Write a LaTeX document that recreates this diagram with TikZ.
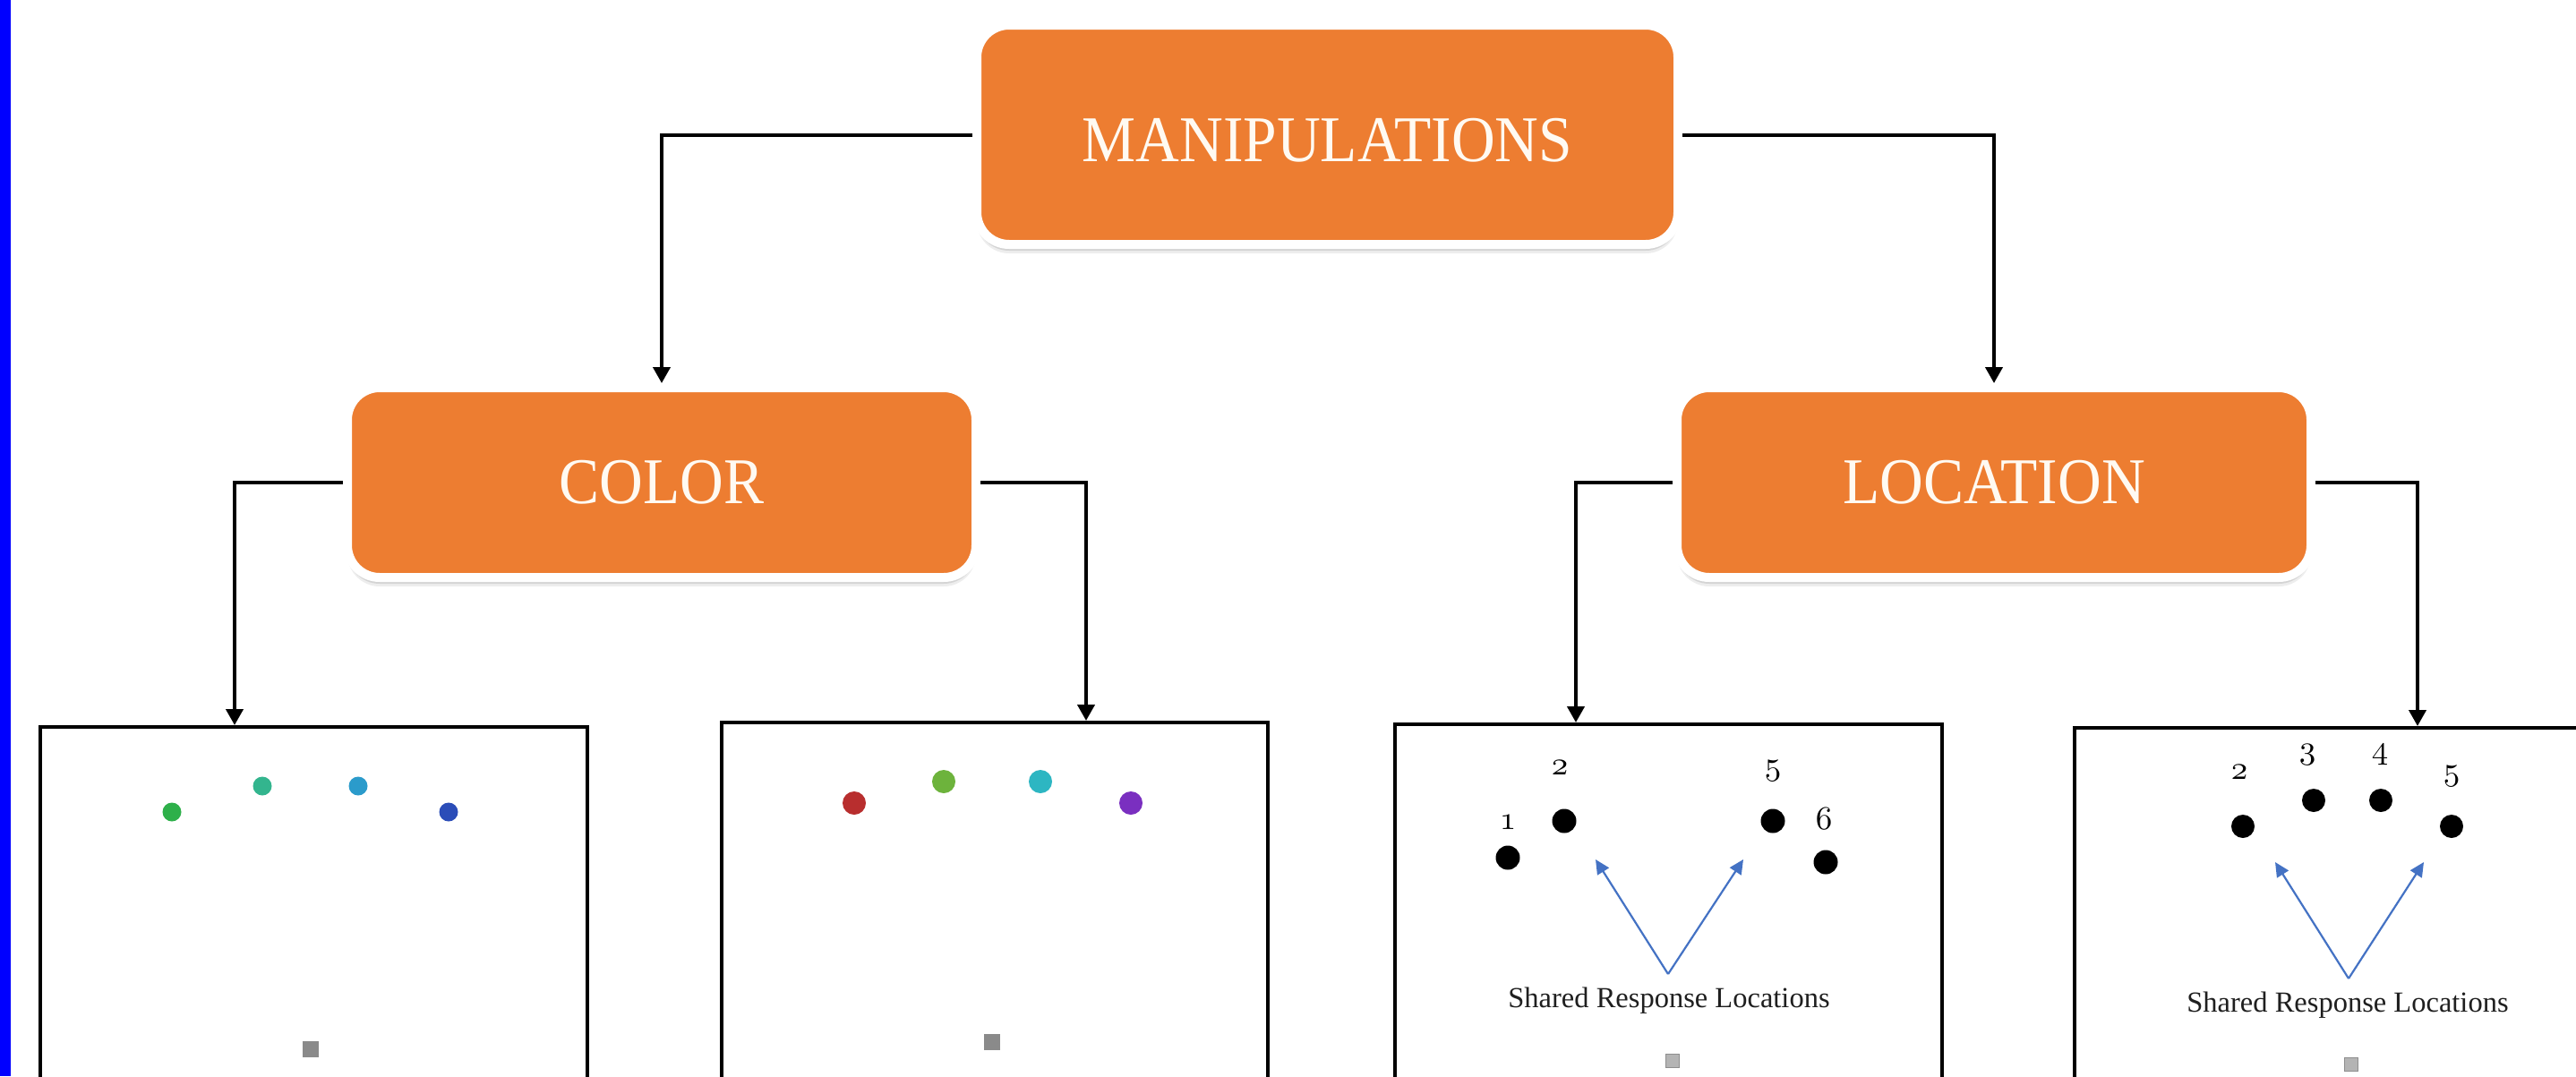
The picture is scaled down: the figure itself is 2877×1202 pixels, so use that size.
\documentclass[tikz,border=0pt]{standalone}
\usepackage{graphicx}
\usepackage{fontspec}
\setmainfont{Liberation Serif}
\usetikzlibrary{arrows.meta,shadows}
\definecolor{boxorange}{HTML}{ED7D31}
\definecolor{boxtext}{HTML}{FFFAF2}
\definecolor{ptrblue}{HTML}{4472C4}
\definecolor{barblue}{HTML}{0000FF}
\definecolor{dgreen}{HTML}{2EB04A}
\definecolor{dteal}{HTML}{33B58E}
\definecolor{dsky}{HTML}{2B9BCB}
\definecolor{dblue}{HTML}{2B4DB8}
\definecolor{dred}{HTML}{B82E2E}
\definecolor{dlime}{HTML}{6DB33C}
\definecolor{dcyan}{HTML}{2DB6C2}
\definecolor{dpurple}{HTML}{7A2FC0}
\definecolor{sqdark}{HTML}{8A8A8A}
\definecolor{sqlight}{HTML}{B4B4B4}
\definecolor{sqedge}{HTML}{8E8E8E}
\font\osfdigits=cmmi10 at 37pt
\newcommand\boxlabel[1]{\fontsize{67.5}{80}\selectfont\scalebox{1}[1.08]{#1}}
\begin{document}
\begin{tikzpicture}[x=1pt,y=-1pt,
  catbox/.style={rectangle, rounded corners=36pt, fill=boxorange, draw=white,
    line width=10pt, inner sep=0pt, text=boxtext,
    drop shadow={shadow xshift=0pt, shadow yshift=-7pt, opacity=0.10, fill=black},
    drop shadow={shadow xshift=0pt, shadow yshift=-10pt, opacity=0.07, fill=black}},
  conn/.style={line width=4pt, -{Triangle[length=18pt,width=19pt]}},
  panel/.style={rectangle, draw=black, line width=4.5pt, fill=white, inner sep=0pt},
  ptr/.style={draw=ptrblue, line width=2.2pt, -{Triangle[length=16pt,width=15pt]}},
  numlbl/.style={inner sep=0pt, anchor=base, font=\osfdigits},
  shared/.style={inner sep=0pt, anchor=base, font=\fontsize{32.5}{38}\selectfont, text=black!88},
  sqbig/.style={fill=sqdark},
  sqsmall/.style={fill=sqlight, draw=sqedge, line width=1.5pt}
]
\useasboundingbox (0,0) rectangle (2877,1202);
\clip (0,0) rectangle (2877,1202);
\fill[white] (0,0) rectangle (2877,1202);
\fill[barblue] (0,0) rectangle (12,1202);

% category boxes
\node[catbox, minimum width=783pt, minimum height=245pt] (manip) at (1482.5,150.5)
  {\boxlabel{\raisebox{-5.5pt}[\height][\depth]{MANIPULATIONS}}};
\node[catbox, minimum width=702pt, minimum height=212pt] (color) at (739,539)
  {\boxlabel{COLOR}};
\node[catbox, minimum width=708pt, minimum height=212pt] (loc) at (2227,539)
  {\boxlabel{LOCATION}};

% panels
\node[panel, minimum width=611pt, minimum height=488pt] (p1) at (350.5,1056) {};
\node[panel, minimum width=610pt, minimum height=488pt] (p2) at (1111,1051) {};
\node[panel, minimum width=611pt, minimum height=488pt] (p3) at (1863.5,1053) {};
\node[panel, minimum width=683pt, minimum height=488pt] (p4) at (2658.5,1057) {};

% arrow targets on panel tops
\coordinate (a1) at (262,810);
\coordinate (a2) at (1213,805);
\coordinate (a3) at (1760,807);
\coordinate (a4) at (2700,811);

% connectors
\draw[conn] (manip.west) -| (color.north);
\draw[conn] (manip.east) -| (loc.north);
\draw[conn] (color.west) -| (a1);
\draw[conn] (color.east) -| (a2);
\draw[conn] (loc.west) -| (a3);
\draw[conn] (loc.east) -| (a4);

% panel 1 contents
\fill[dgreen] (192,907) circle (10.5);
\fill[dteal] (293,878) circle (10.5);
\fill[dsky] (400,878) circle (10.5);
\fill[dblue] (501,907) circle (10.5);
\fill[sqbig] (338,1163) rectangle (356,1181);

% panel 2 contents
\fill[dred] (954,897) circle (13);
\fill[dlime] (1054,873) circle (13);
\fill[dcyan] (1162,873) circle (13);
\fill[dpurple] (1263,897) circle (13);
\fill[sqbig] (1099,1155) rectangle (1117,1173);

% panel 3 contents
\fill[black] (1684,958) circle (13.5);
\fill[black] (1747,917) circle (13.5);
\fill[black] (1980,917) circle (13.5);
\fill[black] (2039,963) circle (13.5);
\node[numlbl] (l31) at (1684,926) {1};
\node[numlbl] (l32) at (1742,865) {2};
\node[numlbl] (l35) at (1980,865) {5};
\node[numlbl] (l36) at (2037,926) {6};
\coordinate (b3) at (1863,1088);
\coordinate (h3l) at (1782,960);
\coordinate (h3r) at (1947,960);
\draw[ptr] (b3) -- (h3l);
\draw[ptr] (b3) -- (h3r);
\node[shared] (t3) at (1864,1125) {Shared Response Locations};
\draw[sqsmall] (1860.5,1177.5) rectangle (1875.5,1192.5);

% panel 4 contents
\fill[black] (2505,923) circle (13);
\fill[black] (2584,894) circle (13);
\fill[black] (2659,894) circle (13);
\fill[black] (2738,923) circle (13);
\node[numlbl] (l42) at (2501,870) {2};
\node[numlbl] (l43) at (2577,847) {3};
\node[numlbl] (l44) at (2658,847) {4};
\node[numlbl] (l45) at (2738,871) {5};
\coordinate (b4) at (2623,1093);
\coordinate (h4l) at (2541,963);
\coordinate (h4r) at (2707,963);
\draw[ptr] (b4) -- (h4l);
\draw[ptr] (b4) -- (h4r);
\node[shared] (t4) at (2622,1130) {Shared Response Locations};
\draw[sqsmall] (2618.5,1181.5) rectangle (2633.5,1196.5);
\end{tikzpicture}
\end{document}
